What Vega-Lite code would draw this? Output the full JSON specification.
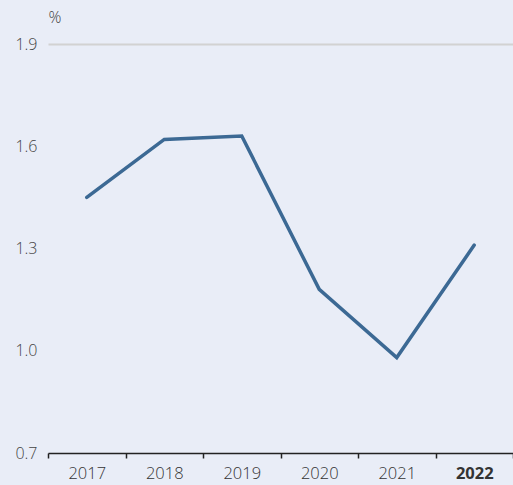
{
  "$schema": "https://vega.github.io/schema/vega-lite/v6.json",
  "autosize": {"type": "none"},
  "width": 465,
  "height": 409,
  "padding": {"left": 48, "top": 44, "right": 0, "bottom": 32},
  "background": "#e9edf7",
  "config": {
    "view": {"stroke": null},
    "font": "Open Sans"
  },
  "data": {
    "values": [
      {"year": "2017", "value": 1.45},
      {"year": "2018", "value": 1.62},
      {"year": "2019", "value": 1.63},
      {"year": "2020", "value": 1.18},
      {"year": "2021", "value": 0.98},
      {"year": "2022", "value": 1.31}
    ]
  },
  "mark": {"type": "line", "color": "#3c6994", "strokeWidth": 3.5, "strokeCap": "round", "strokeJoin": "miter"},
  "encoding": {
    "x": {
      "field": "year",
      "type": "ordinal",
      "bandPosition": 0.5,
      "scale": {"type": "band", "paddingInner": 0, "paddingOuter": 0},
      "axis": {
        "title": null,
        "labelAngle": 0,
        "labelFontSize": 16.5,
        "labelColor": "#333333",
        "labelFontWeight": {"condition": {"test": "datum.value == '2022'", "value": "bold"}, "value": 300},
        "labelPadding": 7,
        "tickBand": "extent",
        "tickSize": 5,
        "tickWidth": 1.5,
        "tickColor": "#222222",
        "domainColor": "#222222",
        "domainWidth": 1.5,
        "grid": false
      }
    },
    "y": {
      "field": "value",
      "type": "quantitative",
      "scale": {"domain": [0.7, 1.9], "nice": false, "zero": false},
      "axis": {
        "values": [0.7, 1.0, 1.3, 1.6, 1.9],
        "format": ".1f",
        "title": "%",
        "titleAngle": 0,
        "titleAlign": "left",
        "titleBaseline": "alphabetic",
        "titleX": 0,
        "titleY": -22,
        "titleFontSize": 16,
        "titleFontWeight": 300,
        "titleColor": "#444444",
        "labelFontSize": 16,
        "labelFontWeight": 300,
        "labelColor": "#444444",
        "labelPadding": 11,
        "ticks": false,
        "domain": false,
        "grid": true,
        "gridColor": {"condition": {"test": "datum.value == 1.9", "value": "#d2d2d2"}, "value": "transparent"},
        "gridWidth": 2
      }
    }
  }
}
